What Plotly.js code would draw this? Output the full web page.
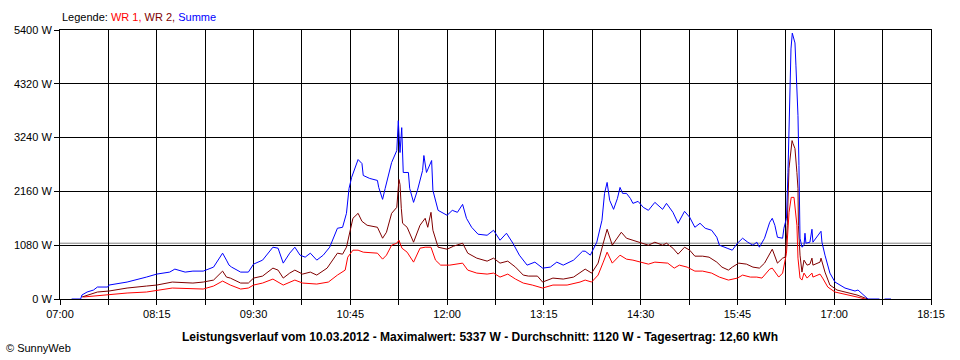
<!DOCTYPE html>
<html>
<head>
<meta charset="utf-8">
<script src="https://cdn.plot.ly/plotly-3.0.1.min.js"></script>
<style>html,body{margin:0;padding:0;background:#fff;}#chart{width:960px;height:360px;}</style>
</head>
<body>
<div id="chart"></div>
<script>
const day = "2012-03-10";

// Summe (blue)
const tSumme = ["07:09","07:16","07:17","07:21","07:26","07:29","07:37","07:38","07:52","08:02",
"08:07","08:15","08:25","08:29","08:37","08:43","08:51","08:59","09:03","09:06",
"09:09","09:11","09:13","09:17","09:20","09:26","09:30","09:37","09:45","09:49",
"09:53","09:58","10:02","10:06","10:10","10:14","10:19","10:24","10:29","10:35",
"10:39","10:42","10:44","10:46","10:50","10:51","10:54","10:55","11:00","11:06",
"11:07","11:10","11:12","11:17","11:21","11:22:10","11:23:30","11:24:50","11:26","11:30",
"11:31","11:34","11:37","11:41","11:42","11:44","11:48","11:49","11:53","12:00",
"12:04","12:08","12:12","12:15","12:19","12:24","12:31","12:36","12:41","12:46",
"12:51","12:56","13:02","13:08","13:14","13:20","13:25","13:30","13:38","13:45",
"13:47","13:51","13:56","14:00","14:02","14:04","14:06","14:09","14:12","14:14",
"14:16","14:19","14:22","14:24","14:28","14:32","14:36","14:41","14:47","14:50",
"14:55","14:59","15:04","15:08","15:12","15:16","15:20","15:25","15:29","15:31",
"15:37","15:41","15:45","15:49","15:53","15:57","16:00","16:02","16:06","16:10",
"16:12","16:14","16:16","16:20","16:21","16:23","16:24:10","16:24:56","16:25:43","16:26:30",
"16:27:30","16:28:50","16:29:35","16:30:20","16:31:05","16:31:55","16:32:40","16:33:30","16:35:00","16:36:35",
"16:37:20","16:38:05","16:41:10","16:42:45","16:43:30","16:47:25","16:49:45","16:50:30","16:52:50","16:56:40",
"17:00:35","17:08:20","17:16:05","17:18:25","17:22:20","17:26:10","17:35","17:37","17:39","17:44"];
const vSumme = [0,0,80,140,180,240,240,280,340,400,
440,500,540,600,540,560,560,640,800,920,
780,680,640,580,540,540,700,780,1040,1020,
720,920,1040,880,840,920,780,880,1040,1420,
1440,1720,2220,2440,2740,2800,2720,2480,2420,2380,
2240,2000,2220,2740,2980,3580,2940,3440,2540,2540,
2220,1940,2180,2580,2880,2540,2780,2180,1780,1680,
1780,1740,1900,1620,1440,1300,1280,1380,1180,1320,
1120,880,680,740,620,640,740,680,780,960,
960,880,1140,1580,2120,2340,1980,1800,2020,2240,
2120,2120,2020,1920,1960,1840,1780,1940,1800,1920,
1740,1520,1760,1640,1440,1520,1420,1380,1240,1080,
1020,980,1120,1220,1140,1080,1140,1040,1220,1540,
1620,1480,1240,1220,1420,1620,2540,3340,4480,5020,
5337,5180,5140,4680,4280,3680,2680,1220,1040,1080,
1320,1120,1140,1400,1140,1280,1360,1140,880,520,
340,220,160,180,80,0,0,null,0,0];

// WR 2 (dark red)
const tWR2 = ["07:17","07:26","07:29","07:38","07:52","08:07","08:15","08:27","08:43","08:51",
"08:59","09:06","09:09","09:12","09:20","09:26","09:30","09:37","09:45","09:49",
"09:53","09:58","10:02","10:08","10:14","10:19","10:27","10:35","10:39","10:42",
"10:45","10:47","10:51","10:54","10:58","11:06","11:10","11:13","11:17","11:21",
"11:22:40","11:23:30","11:24:30","11:25:30","11:29","11:34","11:39","11:43","11:45","11:47:30",
"11:49","11:53","12:00","12:05","12:12","12:16","12:23","12:31","12:36","12:41",
"12:47","12:53","12:59","13:03","13:10","13:14","13:22","13:30","13:38","13:45",
"13:47","13:52","13:57","14:01","14:04","14:08","14:12","14:15","14:19","14:24",
"14:30","14:36","14:41","14:47","14:50","14:55","14:59","15:04","15:08","15:12",
"15:18","15:23","15:29","15:33","15:38","15:41","15:46","15:52","15:57","16:02",
"16:06","16:10","16:12","16:16","16:20","16:22","16:23:36","16:24:56","16:27:20","16:28:05",
"16:29:35","16:31:05","16:31:55","16:32:15","16:33:30","16:35:00","16:36:35","16:39:00","16:41:10","16:42:45",
"16:43:30","16:49:00","16:49:45","16:52:50","16:56:40","17:02:10","17:10:40","17:17:40","17:23:50","17:26:10"];
const vWR2 = [40,120,140,160,220,260,280,340,320,340,
380,560,440,420,320,320,420,460,620,580,
420,520,580,500,540,480,620,920,900,1040,
1420,1620,1720,1560,1480,1440,1220,1340,1720,1840,
2400,2300,1820,1520,1440,1140,1480,1620,1440,1740,
1380,1040,1000,1060,1120,920,820,760,820,720,
760,640,480,460,460,340,420,400,440,560,
600,520,720,1120,1400,1080,1220,1340,1220,1180,
1140,1080,1140,1080,1120,1020,900,1040,980,860,
860,840,740,640,580,640,720,700,640,620,
720,920,1000,720,820,840,1480,2620,3180,3120,
3020,2540,2220,1480,880,540,780,680,700,820,
680,740,820,540,280,180,120,80,20,0];

// WR 1 (red)
const tWR1 = ["07:18","07:26","07:39","07:52","08:07","08:17","08:27","08:51","08:59","09:06",
"09:12","09:20","09:26","09:30","09:37","09:45","09:53","10:02","10:08","10:19",
"10:28","10:35","10:41","10:43","10:47","10:51","10:55","11:06","11:10","11:13",
"11:17","11:21","11:22:40","11:25","11:29","11:34","11:39","11:43","11:47:30","11:51",
"11:55","12:02","12:12","12:16","12:23","12:31","12:36","12:41","12:47","12:53",
"12:59","13:06","13:14","13:22","13:33","13:43","13:47","13:52","13:57","14:01",
"14:04","14:08","14:14","14:19","14:24","14:30","14:36","14:41","14:47","14:51",
"14:56","15:00","15:06","15:12","15:18","15:25","15:31","15:38","15:45","15:49",
"15:55","16:00","16:04","16:10","16:12","16:17","16:20","16:23","16:25","16:26:40",
"16:28:50","16:30:20","16:31:05","16:31:55","16:33:30","16:35:00","16:36:35","16:39:00","16:42:45","16:43:30",
"16:49:00","16:51:00","16:55:00","17:00:35","17:08:20","17:17:40","17:23:50"];
const vWR1 = [40,60,100,120,140,180,220,200,260,360,
280,200,220,280,320,400,280,380,320,300,
340,480,580,840,980,980,940,920,800,880,
1080,1120,1180,1020,940,740,1020,1040,1040,780,
680,680,720,580,520,500,520,440,500,400,
320,280,220,280,280,340,380,340,480,740,
940,720,880,800,780,740,700,740,720,720,
620,680,640,560,560,520,440,380,420,480,
440,440,420,600,620,440,520,920,1740,2040,
2040,1740,1480,820,420,380,520,420,520,440,
500,420,240,140,100,40,0];

const yTicks = [0,1080,2160,3240,4320,5400];
const yTickLabels = ["0 W","1080 W","2160 W","3240 W","4320 W","5400 W"];
const averageW = 1120;
const titleText = "Leistungsverlauf vom 10.03.2012 - Maximalwert: 5337 W - Durchschnitt: 1120 W - Tagesertrag: 12,60 kWh";

const toX = arr => arr.map(t => day + " " + t);
const FONT = "Liberation Sans, Arial, sans-serif";

const traces = [
  {x: toX(tWR1), y: vWR1, type: "scatter", mode: "lines", line: {color: "#ff0000", width: 1}, name: "WR 1", connectgaps: false},
  {x: toX(tWR2), y: vWR2, type: "scatter", mode: "lines", line: {color: "#800000", width: 1}, name: "WR 2", connectgaps: false},
  {x: toX(tSumme), y: vSumme, type: "scatter", mode: "lines", line: {color: "#0000ff", width: 1}, name: "Summe", connectgaps: false}
];

const pxY = py => (299 - py) / 269;
const pxX = px => (px - 60) / 871;

const layout = {
  width: 960, height: 360,
  margin: {l: 60, r: 29, t: 30, b: 61, pad: 0},
  paper_bgcolor: "#ffffff", plot_bgcolor: "#ffffff",
  showlegend: false,
  font: {family: FONT, size: 11, color: "#000"},
  xaxis: {
    type: "date",
    range: [day + " 07:00", day + " 18:15"],
    tick0: day + " 07:00",
    dtick: 75 * 60000,
    tickformat: "%H:%M",
    ticks: "outside", ticklen: 5, tickcolor: "#000", tickwidth: 1,
    showgrid: true, gridcolor: "#000", gridwidth: 1,
    showline: true, linecolor: "#000", linewidth: 1, mirror: true,
    zeroline: false,
    tickfont: {family: FONT, size: 11, color: "#000"},
    minor: {tick0: day + " 07:00", dtick: 37.5 * 60000, ticks: "outside", ticklen: 5, tickcolor: "#000", tickwidth: 1, showgrid: true, gridcolor: "#000", gridwidth: 1},
    fixedrange: true
  },
  yaxis: {
    range: [0, 5400],
    tickmode: "array", tickvals: yTicks, ticktext: yTickLabels,
    ticks: "outside", ticklen: 5, tickcolor: "#000", tickwidth: 1,
    showgrid: true, gridcolor: "#000", gridwidth: 1,
    showline: true, linecolor: "#000", linewidth: 1, mirror: true,
    zeroline: false,
    tickfont: {family: FONT, size: 11, color: "#000"},
    fixedrange: true
  },
  shapes: [
    {type: "line", xref: "paper", x0: 0, x1: 1, yref: "y", y0: averageW, y1: averageW, line: {color: "#808080", width: 1}, layer: "between"}
  ],
  annotations: [
    {xref: "paper", yref: "paper", x: 0, y: pxY(17), xanchor: "left", yanchor: "middle", showarrow: false,
     text: "Legende: <span style='color:#ff0000'>WR 1,</span> <span style='color:#800000'>WR 2,</span> <span style='color:#0000ff'>Summe</span>",
     font: {family: FONT, size: 11, color: "#000"}},
    {xref: "paper", yref: "paper", x: pxX(479.5), y: pxY(337), xanchor: "center", yanchor: "middle", showarrow: false,
     text: "<b>" + titleText + "</b>", font: {family: FONT, size: 12, color: "#000"}},
    {xref: "paper", yref: "paper", x: pxX(4), y: pxY(348), xanchor: "left", yanchor: "middle", showarrow: false,
     text: "© SunnyWeb", font: {family: FONT, size: 11, color: "#000"}}
  ]
};

Plotly.newPlot("chart", traces, layout, {displayModeBar: false, staticPlot: true});
</script>
</body>
</html>
